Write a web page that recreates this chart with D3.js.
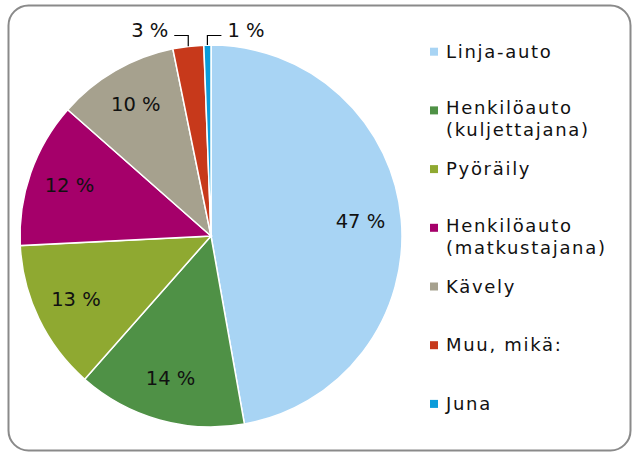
<!DOCTYPE html>
<html>
<head>
<meta charset="utf-8">
<script src="https://cdn.jsdelivr.net/npm/d3@7"></script>
<style>
  body { margin: 0; background: #fff; }
  text { font-family: "DejaVu Sans", Verdana, sans-serif; font-weight: normal; fill: #111; }
</style>
</head>
<body>
<svg width="633" height="453"></svg>
<script>
// data
var categories = ["Linja-auto", "Henkilöauto (kuljettajana)", "Pyöräily",
                  "Henkilöauto (matkustajana)", "Kävely", "Muu, mikä:", "Juna"];
var legendLines = [["Linja-auto"], ["Henkilöauto", "(kuljettajana)"], ["Pyöräily"],
                   ["Henkilöauto", "(matkustajana)"], ["Kävely"], ["Muu, mikä:"], ["Juna"]];
var values = [47.2, 14.3, 12.7, 12.3, 10.3, 2.6, 0.6];
var colors = ["#a8d4f4", "#4f9146", "#8fa931", "#a5006a", "#a6a18e", "#c7391b", "#0b9cda"];

var svg = d3.select("svg");

// outer frame
svg.append("rect")
    .attr("x", 8.5).attr("y", 5.5)
    .attr("width", 622).attr("height", 445)
    .attr("rx", 20).attr("ry", 20)
    .attr("fill", "none")
    .attr("stroke", "#8a8a8a")
    .attr("stroke-width", 2);

var cx = 211, cy = 236, r = 191;

var data = categories.map(function(c, i) {
    return {name: c, value: values[i], color: colors[i], lines: legendLines[i]};
});

var pie = d3.pie().sort(null).value(function(d) { return d.value; });
var arcs = pie(data);

var arc = d3.arc().innerRadius(0).outerRadius(r);
var labelArc = d3.arc().innerRadius(150).outerRadius(150);
var edgeArc = d3.arc().innerRadius(r).outerRadius(r);

var g = svg.append("g").attr("transform", "translate(" + cx + "," + cy + ")");

g.selectAll("path")
    .data(arcs)
    .enter()
    .append("path")
    .attr("d", arc)
    .attr("fill", function(d) { return d.data.color; })
    .attr("stroke", "#fff")
    .attr("stroke-width", 1.5);

var fmt = function(v) { return Math.round(v) + " %"; };

// inside labels for the big slices
var inside = arcs.filter(function(d) { return d.data.value >= 5; });
g.selectAll("text.inner")
    .data(inside)
    .enter()
    .append("text")
    .attr("class", "inner")
    .attr("x", function(d) { return labelArc.centroid(d)[0]; })
    .attr("y", function(d) { return labelArc.centroid(d)[1] + 5; })
    .attr("text-anchor", "middle")
    .style("font-size", "19.5px")
    .text(function(d) { return fmt(d.data.value); });

// small slices get labels above the pie with leader lines
var outside = arcs.filter(function(d) { return d.data.value < 5; });
var leaderY = -r - 9.5;
outside.forEach(function(d, i) {
    var p = edgeArc.centroid(d);
    var side = i == 0 ? -1 : 1;   // first one to the left, second to the right
    g.append("path")
        .attr("d", "M" + p[0] + "," + p[1] + "V" + leaderY + "h" + (side * 14))
        .attr("fill", "none")
        .attr("stroke", "#000")
        .attr("stroke-width", 1.2);
    g.append("text")
        .attr("x", p[0] + side * 20)
        .attr("y", leaderY + 1.5)
        .attr("text-anchor", side < 0 ? "end" : "start")
        .style("font-size", "19.5px")
        .text(fmt(d.data.value));
});

// legend
var legend = svg.append("g").attr("class", "legend");
var item = legend.selectAll("g")
    .data(data)
    .enter()
    .append("g")
    .attr("transform", function(d, i) { return "translate(430," + (57.7 + i * 58.7) + ")"; });

item.append("rect")
    .attr("x", 0).attr("y", -10)
    .attr("width", 8).attr("height", 8)
    .attr("fill", function(d) { return d.color; });

item.each(function(d) {
    var t = d3.select(this).append("text")
        .attr("x", 16)
        .attr("y", d.lines.length > 1 ? -2 : 0)
        .style("font-size", "18px")
        .style("letter-spacing", "1.7px");
    d.lines.forEach(function(line, j) {
        t.append("tspan")
            .attr("x", 16)
            .attr("dy", j == 0 ? 0 : 22)
            .text(line);
    });
});
</script>
</body>
</html>
